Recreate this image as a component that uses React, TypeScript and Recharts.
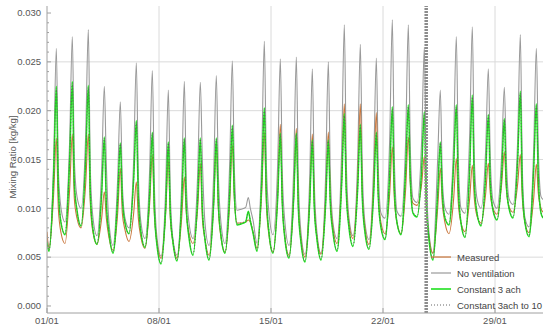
import { LineChart, Line, XAxis, YAxis, ReferenceLine } from 'recharts';

// sampling: start of 01/01, then five readings a day, then end of 31/01
const dayCount = 31;
const sampleHours = [3, 10, 14, 17, 21];

const xTicks = [0, 7, 14, 21, 28];
const xTickLabels = ['01/01', '08/01', '15/01', '22/01', '29/01'];
const yGridValues = [0.005, 0.01, 0.015, 0.02, 0.025];
const changeOverDay = 23.7;

const noVentilation = [
  0.007,
  0.006, 0.015, 0.0264, 0.014, 0.01,
  0.0086, 0.017, 0.0276, 0.015, 0.0112,
  0.01, 0.0175, 0.0283, 0.014, 0.009,
  0.0072, 0.014, 0.0225, 0.0145, 0.0085,
  0.0062, 0.013, 0.0209, 0.0125, 0.009,
  0.008, 0.015, 0.0249, 0.0135, 0.0085,
  0.0069, 0.014, 0.0241, 0.0125, 0.007,
  0.0051, 0.012, 0.0221, 0.0115, 0.0068,
  0.0052, 0.0125, 0.023, 0.0125, 0.0085,
  0.0069, 0.0135, 0.0229, 0.015, 0.0085,
  0.0062, 0.0135, 0.0236, 0.0135, 0.0085,
  0.0064, 0.0145, 0.0251, 0.014, 0.0098,
  0.0099, 0.0101, 0.0111, 0.01, 0.0088,
  0.0064, 0.015, 0.0271, 0.0145, 0.0095,
  0.0073, 0.0145, 0.0253, 0.0135, 0.0085,
  0.0062, 0.014, 0.0255, 0.013, 0.0075,
  0.0053, 0.013, 0.0243, 0.0125, 0.0075,
  0.0054, 0.0135, 0.025, 0.0135, 0.0085,
  0.0069, 0.016, 0.0288, 0.0145, 0.009,
  0.0072, 0.015, 0.0268, 0.014, 0.0085,
  0.0068, 0.0145, 0.0254, 0.014, 0.0095,
  0.009, 0.017, 0.0293, 0.015, 0.0097,
  0.0092, 0.017, 0.0288, 0.016, 0.011,
  0.0106, 0.017, 0.0265, 0.013, 0.0075,
  0.0054, 0.015, 0.0221, 0.013, 0.01,
  0.0094, 0.017, 0.0276, 0.015, 0.01,
  0.0095, 0.0175, 0.0286, 0.015, 0.011,
  0.01, 0.016, 0.0243, 0.015, 0.0108,
  0.01, 0.0155, 0.0224, 0.015, 0.011,
  0.0104, 0.017, 0.0278, 0.014, 0.009,
  0.0081, 0.016, 0.0264, 0.016, 0.0112,
  0.0109,
];

const constant3ach = [
  0.0065,
  0.0056, 0.0135, 0.0225, 0.012, 0.0085,
  0.0073, 0.015, 0.023, 0.0125, 0.0098,
  0.0082, 0.015, 0.0226, 0.0115, 0.0078,
  0.0063, 0.0115, 0.0173, 0.0105, 0.0075,
  0.0054, 0.011, 0.0167, 0.011, 0.0085,
  0.0074, 0.013, 0.019, 0.011, 0.0075,
  0.006, 0.0115, 0.0178, 0.01, 0.0062,
  0.0043, 0.01, 0.0168, 0.0095, 0.0065,
  0.0046, 0.0105, 0.0172, 0.01, 0.007,
  0.0052, 0.011, 0.0172, 0.01, 0.0068,
  0.0047, 0.0105, 0.0172, 0.0105, 0.0072,
  0.0054, 0.0115, 0.0185, 0.0115, 0.0083,
  0.0084, 0.0086, 0.0097, 0.0087, 0.0075,
  0.0056, 0.0125, 0.0203, 0.0115, 0.0075,
  0.0054, 0.011, 0.0177, 0.0105, 0.0068,
  0.0049, 0.011, 0.0177, 0.01, 0.0065,
  0.0045, 0.0105, 0.017, 0.01, 0.0068,
  0.0047, 0.0105, 0.017, 0.0105, 0.0075,
  0.0056, 0.0125, 0.0197, 0.0115, 0.008,
  0.0061, 0.012, 0.0186, 0.011, 0.0075,
  0.0058, 0.0115, 0.0178, 0.011, 0.008,
  0.0068, 0.0135, 0.0204, 0.012, 0.0085,
  0.0073, 0.014, 0.0206, 0.013, 0.0095,
  0.0091, 0.014, 0.0199, 0.011, 0.0068,
  0.0047, 0.0115, 0.0168, 0.0115, 0.009,
  0.0083, 0.0145, 0.0206, 0.012, 0.0085,
  0.007, 0.014, 0.0216, 0.0125, 0.0095,
  0.0082, 0.0135, 0.0196, 0.0125, 0.0098,
  0.0088, 0.0135, 0.0192, 0.0125, 0.01,
  0.009, 0.015, 0.022, 0.012, 0.0085,
  0.0071, 0.014, 0.0207, 0.013, 0.0095,
  0.009,
];

const measured = [
  0.0076,
  0.0058, 0.0115, 0.0172, 0.01, 0.0075,
  0.0064, 0.012, 0.0176, 0.011, 0.009,
  0.008, 0.0125, 0.0176, 0.0105, 0.0075,
  0.0063, 0.009, 0.0117, 0.009, 0.007,
  0.0057, 0.0095, 0.0141, 0.0095, 0.0078,
  0.0066, 0.0095, 0.0127, 0.009, 0.007,
  0.0059, 0.0105, 0.0155, 0.0095, 0.0065,
  0.0049, 0.0095, 0.015, 0.009, 0.0065,
  0.0049, 0.009, 0.0132, 0.0095, 0.0075,
  0.0064, 0.01, 0.0146, 0.009, 0.0068,
  0.0052, 0.0105, 0.0168, 0.01, 0.007,
  0.0055, 0.0105, 0.0165, 0.011, 0.0085,
  0.0085, 0.0086, 0.0088, 0.0086, 0.0076,
  0.0059, 0.0115, 0.0178, 0.0105, 0.0072,
  0.0055, 0.0115, 0.0186, 0.0105, 0.007,
  0.0052, 0.011, 0.0182, 0.0105, 0.0068,
  0.005, 0.0108, 0.0176, 0.0105, 0.007,
  0.0053, 0.011, 0.0178, 0.011, 0.008,
  0.0064, 0.013, 0.0207, 0.012, 0.0085,
  0.0069, 0.013, 0.0207, 0.0115, 0.008,
  0.0063, 0.0125, 0.0198, 0.0115, 0.0085,
  0.0074, 0.0115, 0.0163, 0.011, 0.0085,
  0.0074, 0.012, 0.0173, 0.0125, 0.0105,
  0.0103, 0.0125, 0.0153, 0.01, 0.007,
  0.0054, 0.01, 0.0141, 0.0105, 0.0085,
  0.0074, 0.011, 0.0151, 0.0105, 0.0085,
  0.0076, 0.011, 0.0144, 0.011, 0.0092,
  0.0085, 0.0115, 0.0146, 0.0115, 0.01,
  0.0094, 0.0125, 0.0158, 0.012, 0.0102,
  0.0096, 0.0125, 0.0155, 0.011, 0.0085,
  0.0075, 0.011, 0.0145, 0.0115, 0.01,
  0.0096,
];

const constant3to10 = [
  0.0066,
  0.0057, 0.0134, 0.0223, 0.0121, 0.0086,
  0.0074, 0.0149, 0.0228, 0.0126, 0.0098,
  0.0082, 0.0149, 0.0224, 0.0116, 0.0079,
  0.0064, 0.0115, 0.0172, 0.0106, 0.0076,
  0.0055, 0.011, 0.0166, 0.011, 0.0085,
  0.0074, 0.0129, 0.0188, 0.0111, 0.0076,
  0.0061, 0.0115, 0.0177, 0.0101, 0.0063,
  0.0044, 0.01, 0.0167, 0.0096, 0.0066,
  0.0047, 0.0105, 0.0171, 0.0101, 0.0071,
  0.0053, 0.011, 0.0171, 0.0101, 0.0069,
  0.0048, 0.0105, 0.0171, 0.0105, 0.0073,
  0.0055, 0.0115, 0.0184, 0.0115, 0.0084,
  0.0085, 0.0087, 0.0096, 0.0088, 0.0076,
  0.0057, 0.0124, 0.0201, 0.0116, 0.0076,
  0.0055, 0.011, 0.0176, 0.0106, 0.0069,
  0.005, 0.011, 0.0176, 0.0101, 0.0066,
  0.0046, 0.0105, 0.0169, 0.0101, 0.0069,
  0.0048, 0.0105, 0.0169, 0.0106, 0.0076,
  0.0057, 0.0124, 0.0195, 0.0116, 0.0081,
  0.0062, 0.0119, 0.0185, 0.0111, 0.0076,
  0.0059, 0.0115, 0.0177, 0.0111, 0.0081,
  0.0069, 0.0134, 0.0202, 0.0121, 0.0086,
  0.0074, 0.0139, 0.0204, 0.013, 0.0096,
  0.0092, 0.0139, 0.0197, 0.0111, 0.0069,
  0.0048, 0.0115, 0.0167, 0.0115, 0.0091,
  0.0084, 0.0144, 0.0204, 0.0121, 0.0086,
  0.0071, 0.0139, 0.0214, 0.0126, 0.0096,
  0.0083, 0.0134, 0.0195, 0.0126, 0.0099,
  0.0089, 0.0134, 0.0191, 0.0126, 0.0101,
  0.0091, 0.0149, 0.0218, 0.0121, 0.0086,
  0.0072, 0.0139, 0.0205, 0.0131, 0.0096,
  0.0091,
];

const times: number[] = [0];
for (let d = 0; d < dayCount; d++) {
  sampleHours.forEach((h) => times.push(d + h / 24));
}
times.push(dayCount);

const chartData = times.map((t, i) => ({
  t,
  noVent: noVentilation[i],
  measured: measured[i],
  c3: constant3ach[i],
  c3to10: constant3to10[i],
}));

const yTicks = Array.from({ length: 31 }, (_, i) => i / 1000);

const FONT = '"Liberation Sans", Arial, sans-serif';
const FRAME = '#a0a0a0';
const TEXT = '#555';
const plotLeft = 47;
const plotRight = 543;
const plotTop = 6;
const plotBottom = 313;
const yDomain: [number, number] = [-0.00072, 0.03072];

const isMajor = (v: number) => Math.round(v * 1000) % 5 === 0;

const LeftTick = ({ y, payload }: any) => {
  const major = isMajor(payload.value);
  return (
    <g>
      <line x1={plotLeft} x2={plotLeft + (major ? 4 : 2)} y1={y} y2={y} stroke={FRAME} />
      {major && (
        <text x={41} y={y} dy={3.3} textAnchor="end" fontSize={9.5} fill={TEXT} fontFamily={FONT}>
          {payload.value.toFixed(3)}
        </text>
      )}
    </g>
  );
};

const RightTick = ({ y, payload }: any) => {
  const major = isMajor(payload.value);
  return <line x1={plotRight} x2={plotRight - (major ? 4 : 2)} y1={y} y2={y} stroke={FRAME} />;
};

const BottomTick = ({ x, payload }: any) => (
  <g>
    <line x1={x} x2={x} y1={plotBottom} y2={plotBottom - 5} stroke={FRAME} />
    <text x={x} y={plotBottom + 11} textAnchor="middle" fontSize={9.5} fill={TEXT} fontFamily={FONT}>
      {xTickLabels[xTicks.indexOf(payload.value)]}
    </text>
  </g>
);

const legendItems = [
  { label: 'Measured', color: '#c8753a', dash: undefined, width: 1.2 },
  { label: 'No ventilation', color: '#9a9a9a', dash: undefined, width: 1.2 },
  { label: 'Constant 3 ach', color: '#1fe01f', dash: undefined, width: 1.6 },
  { label: 'Constant 3ach to 10', color: '#666', dash: '1 2', width: 1 },
];

const MixingLegend = () => (
  <div
    style={{
      position: 'absolute',
      left: 430,
      top: 249,
      width: 119,
      height: 64,
      fontFamily: FONT,
      fontSize: 9.5,
      color: '#444',
    }}
  >
    {legendItems.map((item) => (
      <div key={item.label} style={{ height: 16, display: 'flex', alignItems: 'center', whiteSpace: 'nowrap' }}>
        <svg width={21} height={16} style={{ flex: 'none' }}>
          <line x1={1} x2={21} y1={8} y2={8} stroke={item.color} strokeWidth={item.width} strokeDasharray={item.dash} />
        </svg>
        <span style={{ marginLeft: 6 }}>{item.label}</span>
      </div>
    ))}
  </div>
);

export default function App() {
  return (
    <div style={{ position: 'absolute', left: 0, top: 0, width: 550, height: 328, background: '#fff' }}>
      <LineChart
        width={550}
        height={328}
        data={chartData}
        margin={{ top: plotTop, right: 550 - plotRight, left: 7, bottom: 0 }}
      >
        <XAxis
          dataKey="t"
          type="number"
          domain={[0, dayCount]}
          ticks={xTicks}
          interval={0}
          allowDataOverflow
          height={15}
          axisLine={{ stroke: FRAME }}
          tickLine={false}
          tick={<BottomTick />}
        />
        <XAxis
          xAxisId="top"
          dataKey="t"
          type="number"
          orientation="top"
          domain={[0, dayCount]}
          height={0}
          axisLine={{ stroke: FRAME }}
          tickLine={false}
          tick={false}
        />
        <YAxis
          type="number"
          domain={yDomain}
          ticks={yTicks}
          interval={0}
          allowDataOverflow
          width={40}
          axisLine={{ stroke: FRAME }}
          tickLine={false}
          tick={<LeftTick />}
          label={{
            content: () => (
              <text
                x={12.5}
                y={157}
                transform="rotate(-90 12.5 157)"
                textAnchor="middle"
                dominantBaseline="central"
                fontSize={9.5}
                fill={TEXT}
                fontFamily={FONT}
              >
                Mixing Ratio [kg/kg]
              </text>
            ),
          }}
        />
        <YAxis
          yAxisId="right"
          orientation="right"
          type="number"
          domain={yDomain}
          ticks={yTicks}
          interval={0}
          allowDataOverflow
          width={0}
          axisLine={{ stroke: FRAME }}
          tickLine={false}
          tick={<RightTick />}
        />
        {yGridValues.map((v) => (
          <ReferenceLine key={`gy${v}`} y={v} stroke="#dadada" strokeWidth={1} />
        ))}
        {xTicks.slice(1).map((v) => (
          <ReferenceLine key={`gx${v}`} x={v} stroke="#dadada" strokeWidth={1} />
        ))}
        <Line dataKey="noVent" type="monotone" stroke="#9a9a9a" strokeWidth={1.1} dot={false} isAnimationActive={false} />
        <Line dataKey="measured" type="monotone" stroke="#c8753a" strokeWidth={1.1} dot={false} isAnimationActive={false} />
        <Line dataKey="c3" type="monotone" stroke="#1fe01f" strokeWidth={1.5} dot={false} isAnimationActive={false} />
        <Line
          dataKey="c3to10"
          type="monotone"
          stroke="#4d6b4d"
          strokeWidth={0.9}
          strokeDasharray="1 2"
          dot={false}
          isAnimationActive={false}
        />
        <ReferenceLine x={changeOverDay} stroke="#8c8c8c" strokeWidth={3.5} strokeDasharray="2 1" />
      </LineChart>
      <MixingLegend />
    </div>
  );
}
